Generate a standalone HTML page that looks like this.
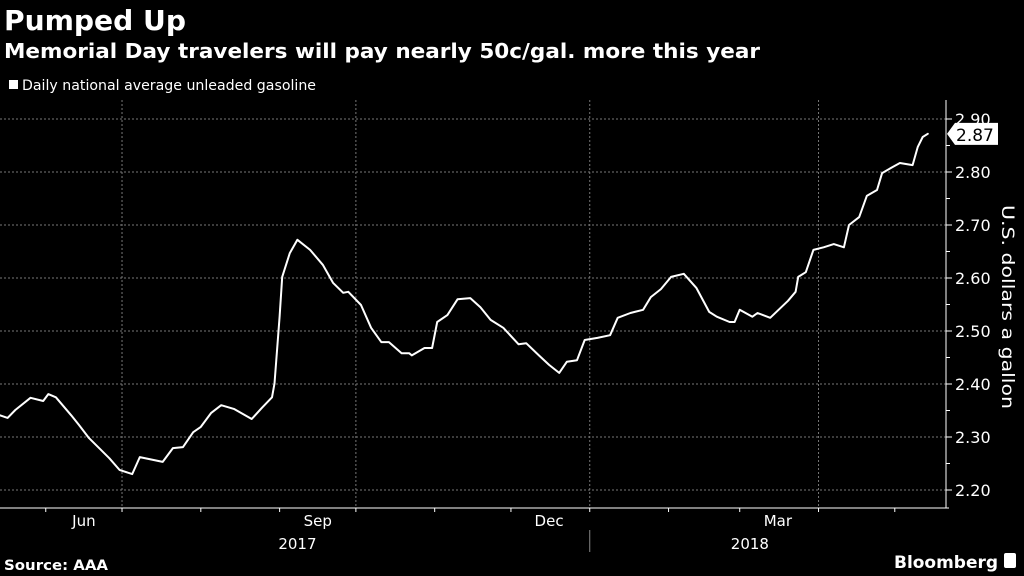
<!DOCTYPE html>
<html><head><meta charset="utf-8"><style>
html,body{margin:0;padding:0;background:#000;}
svg{display:block;font-family:"DejaVu Sans","Liberation Sans",sans-serif;}
</style></head><body>
<svg id="chart" width="1024" height="576" viewBox="0 0 1024 576">
<rect width="1024" height="576" fill="#000"/>
<text x="4" y="30" fill="#fff" font-size="28" font-weight="bold" textLength="182" lengthAdjust="spacingAndGlyphs">Pumped Up</text>
<text x="4" y="58" fill="#fff" font-size="20" font-weight="bold" textLength="756" lengthAdjust="spacingAndGlyphs">Memorial Day travelers will pay nearly 50c/gal. more this year</text>
<g>
<rect x="9" y="80" width="9" height="9" fill="#fff"/>
<text x="22" y="90" fill="#fff" font-size="14" textLength="294" lengthAdjust="spacingAndGlyphs">Daily national average unleaded gasoline</text>
</g>
<g id="grid"></g>
<g id="axes"></g>
<g id="series"></g>
<text transform="translate(1002,307) rotate(90)" text-anchor="middle" fill="#fff" font-size="17" textLength="204" lengthAdjust="spacingAndGlyphs">U.S. dollars a gallon</text>
<text x="4" y="570" fill="#fff" font-size="14" font-weight="bold" textLength="104" lengthAdjust="spacingAndGlyphs">Source: AAA</text>
<text x="894" y="568" fill="#fff" font-size="17" font-weight="bold" textLength="104" lengthAdjust="spacingAndGlyphs">Bloomberg</text>
<rect x="1004" y="553" width="12" height="15" rx="2" fill="#fff"/>
</svg>
<script>
const days=[0,3,6,12,17,19,22,28,31,35,39,43,47,52,55,64,68,72,76,79,83,87,92,99,103,107,108,110,111,114,117,122,127,131,135,137,142,146,150,153,158,161,162,167,170,172,176,180,185,189,193,198,204,207,212,216,220,223,227,230,235,240,243,248,253,256,260,264,269,274,279,282,287,289,291,296,298,303,310,313,314,317,320,324,328,332,334,338,341,345,347,351,354,359,361,363,365];
const prices=[2.341,2.336,2.351,2.374,2.368,2.381,2.375,2.341,2.323,2.298,2.279,2.260,2.238,2.230,2.262,2.253,2.279,2.281,2.309,2.319,2.345,2.360,2.353,2.334,2.355,2.375,2.401,2.527,2.602,2.647,2.672,2.653,2.625,2.591,2.572,2.574,2.549,2.506,2.479,2.479,2.458,2.458,2.454,2.468,2.468,2.517,2.530,2.560,2.562,2.545,2.521,2.506,2.475,2.477,2.454,2.436,2.421,2.442,2.445,2.483,2.487,2.492,2.525,2.534,2.540,2.564,2.579,2.602,2.608,2.581,2.536,2.527,2.517,2.517,2.540,2.527,2.534,2.525,2.557,2.574,2.602,2.611,2.653,2.658,2.664,2.658,2.700,2.715,2.755,2.766,2.798,2.809,2.817,2.813,2.847,2.866,2.872];
const yTicks=[2.20,2.30,2.40,2.50,2.60,2.70,2.80,2.90];
const monthStarts=[18,48,79,110,140,171,201,232,263,291,322,352];
const gridMonths=[48,140,232,322];
const monthLabels=["Jun","Sep","Dec","Mar"];
const monthLabelDays=[33,125,216,306];
const yearLabels=["2017","2018"];
const yearLabelDays=[117,295];
const yearBoundary=232;
const lastLabel="2.87";

const NS="http://www.w3.org/2000/svg";
const X=d=>d*2.542;
const Y=v=>490-(v-2.20)*530;
function mk(tag,parent,attrs){const e=document.createElementNS(NS,tag);for(const k in attrs)e.setAttribute(k,attrs[k]);parent.appendChild(e);return e;}
const grid=document.getElementById('grid'),axes=document.getElementById('axes'),series=document.getElementById('series');
const AX=946,AY=508;
yTicks.forEach(t=>{
  const l=mk('line',grid,{x1:0,x2:AX,y1:Y(t),y2:Y(t),stroke:'#777','stroke-width':1,'stroke-dasharray':'2,2'});
  
  
  const tk=mk('line',axes,{x1:AX,x2:AX+6,y1:Y(t),y2:Y(t),stroke:'#fff'});
  
  
  const tx=mk('text',axes,{x:AX+9,y:Y(t)+6,fill:'#fff','font-size':16});
  tx.textContent=t.toFixed(2);
  
  
  if(t<2.9){const m=mk('line',axes,{x1:AX,x2:AX+4,y1:Y(t+0.05),y2:Y(t+0.05),stroke:'#fff'});
  
  }
});
gridMonths.forEach(d=>{
  const l=mk('line',grid,{x1:X(d),x2:X(d),y1:100,y2:AY,stroke:'#777','stroke-dasharray':'2,2'});
  
  
});
const ya=mk('line',axes,{x1:AX,x2:AX,y1:100,y2:AY,stroke:'#fff'});


const xa=mk('line',axes,{x1:0,x2:AX+3,y1:AY,y2:AY,stroke:'#fff'});


monthStarts.forEach(d=>{
  const t=mk('line',axes,{x1:X(d),x2:X(d),y1:AY,y2:AY+4,stroke:'#fff'});
  
  
});
monthLabels.forEach((s,i)=>{
  const t=mk('text',axes,{x:X(monthLabelDays[i]),y:526,fill:'#fff','font-size':15,'text-anchor':'middle'});
  t.textContent=s;
  
  
});
yearLabels.forEach((s,i)=>{
  const t=mk('text',axes,{x:X(yearLabelDays[i]),y:549,fill:'#fff','font-size':15,'text-anchor':'middle'});
  t.textContent=s;
  
  
});
const sep=mk('line',axes,{x1:X(yearBoundary),x2:X(yearBoundary),y1:530,y2:552,stroke:'#888'});


const pts=days.map((d,i)=>X(d).toFixed(1)+','+Y(prices[i]).toFixed(1)).join(' ');
const pl=mk('polyline',series,{points:pts,fill:'none',stroke:'#fff','stroke-width':2,'stroke-linejoin':'round','stroke-linecap':'round'});


const lv=prices[prices.length-1],ly=Y(lv);
const tag=mk('path',series,{d:`M${AX+1},${ly} L${AX+9},${ly-11} L${AX+52},${ly-11} L${AX+52},${ly+11} L${AX+9},${ly+11} Z`,fill:'#fff'});


const lt=mk('text',series,{x:AX+10,y:ly+7,fill:'#000','font-size':17});
lt.textContent=lastLabel;


</script>
</body></html>
